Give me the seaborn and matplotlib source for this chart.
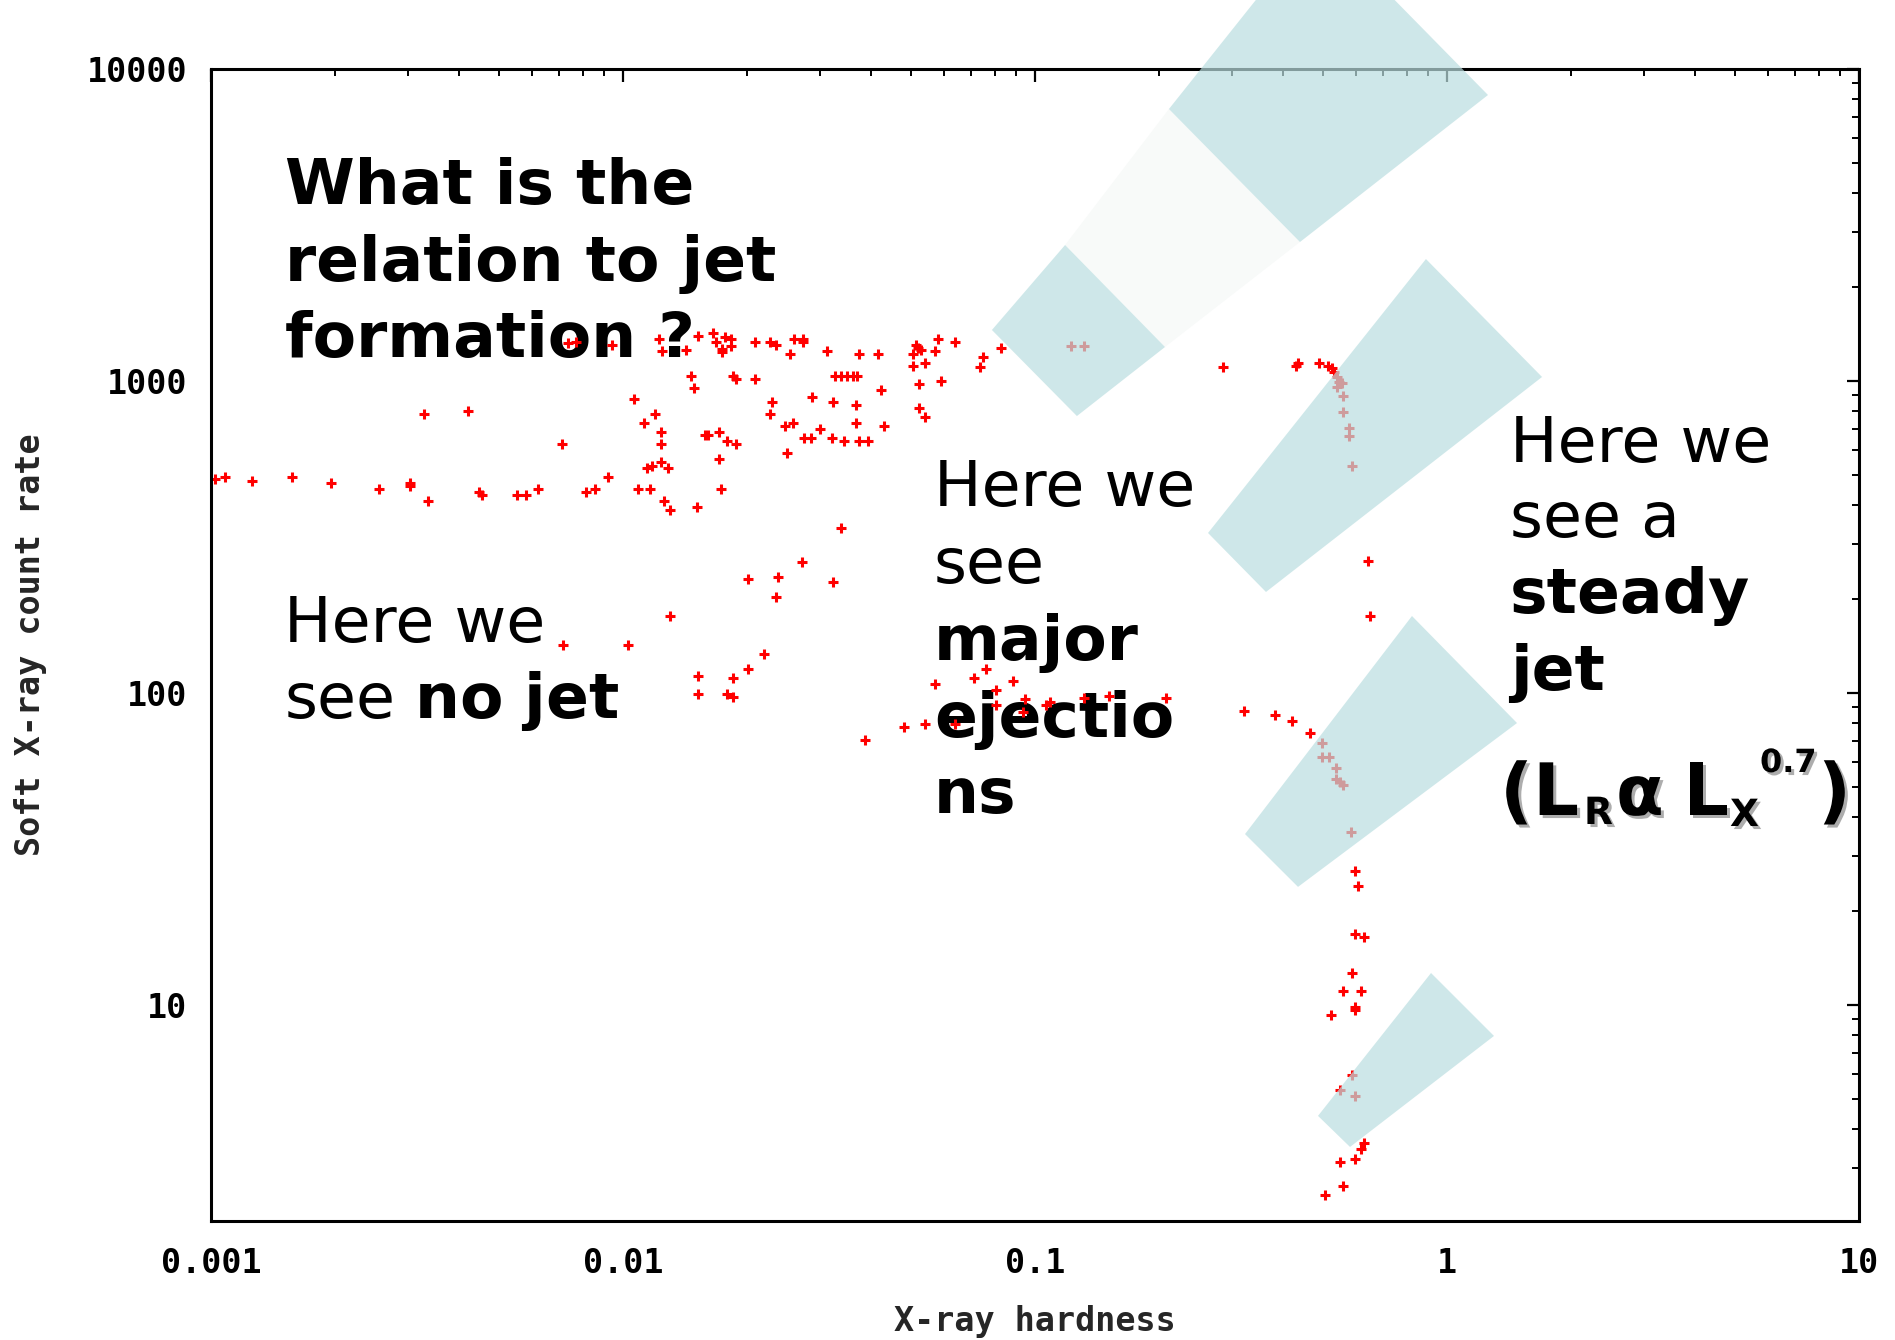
import numpy as np
import pandas as pd
import seaborn as sns
import matplotlib
matplotlib.use("Agg")
import matplotlib.pyplot as plt
import matplotlib.patheffects as pe
from matplotlib.ticker import NullFormatter

# ---------------- data ----------------
# soft-state band (low hardness, ~400-1000 counts)
hard_a = [0.00102, 0.00108, 0.00126, 0.00157, 0.00196, 0.00256, 0.00304, 0.00304, 0.00336, 0.00447,
          0.00455, 0.00553, 0.00582, 0.00622, 0.00813, 0.00855, 0.0092, 0.01087, 0.01163, 0.01144,
          0.01176, 0.01237, 0.01286, 0.01257, 0.0130, 0.01512, 0.0171, 0.0173, 0.00329, 0.00421,
          0.00711, 0.01063, 0.01196, 0.01124, 0.01237, 0.01237, 0.0171, 0.01581, 0.01608, 0.01789,
          0.0188, 0.01462, 0.01487, 0.01849, 0.0188, 0.02091, 0.0230, 0.02274, 0.02473, 0.02585,
          0.02876, 0.03008, 0.0275, 0.0286, 0.0250, 0.03234, 0.03216, 0.03438, 0.03677, 0.03677,
          0.0374, 0.03933, 0.04301, 0.0327, 0.03381, 0.03497, 0.03616, 0.03698, 0.04229]
rate_a = [485, 492, 478, 492, 471, 451, 471, 461, 412, 441,
          431, 431, 431, 451, 441, 451, 492, 451, 451, 526,
          534, 550, 526, 412, 386, 394, 562, 451, 784, 801,
          628, 876, 784, 733, 686, 628, 686, 671, 671, 642,
          628, 1038, 950, 1038, 1015, 1015, 857, 784, 717, 733,
          889, 702, 657, 657, 588, 857, 657, 642, 838, 733,
          642, 642, 717, 1038, 1038, 1038, 1038, 1038, 936]

# bright upper branch (~1000-1400 counts) and the hard state decline
hard_b = [0.00736, 0.00769, 0.0094, 0.01223, 0.01243, 0.01422, 0.01521, 0.01653, 0.01681, 0.0174,
          0.0174, 0.01769, 0.01829, 0.01829, 0.02091, 0.02274, 0.02352, 0.02543, 0.026, 0.02735,
          0.02735, 0.03127, 0.0374, 0.04158, 0.05056, 0.052, 0.05287, 0.05142, 0.05816, 0.05719,
          0.06394, 0.05056, 0.05408, 0.05229, 0.05914, 0.05229, 0.05408, 0.07478, 0.07353, 0.08269,
          0.1223, 0.1315, 0.286, 0.4301, 0.4349, 0.489, 0.5142, 0.526, 0.5318, 0.5408,
          0.547, 0.5562, 0.5408, 0.5593, 0.5593, 0.5783, 0.5783, 0.5881, 0.6431, 0.6503]
rate_b = [1324, 1334, 1305, 1363, 1248, 1258, 1394, 1425, 1334, 1267,
          1239, 1384, 1363, 1295, 1334, 1334, 1305, 1221, 1363, 1363,
          1334, 1248, 1221, 1221, 1221, 1276, 1258, 1305, 1363, 1248,
          1334, 1117, 1142, 978, 1000, 819, 766, 1193, 1109, 1276,
          1295, 1295, 1109, 1117, 1142, 1142, 1117, 1101, 1069, 1030,
          993, 985, 957, 895, 796, 707, 666, 534, 265, 177]

# faint branch and decay to quiescence
hard_c = [0.03381, 0.02719, 0.02011, 0.02378, 0.03234, 0.02352, 0.0130, 0.00715, 0.01028, 0.02199,
          0.02011, 0.01521, 0.01849, 0.01521, 0.01789, 0.01849, 0.03868, 0.04809, 0.05408, 0.06394,
          0.05719, 0.07112, 0.07603, 0.08844, 0.08042, 0.08042, 0.09456, 0.09352, 0.1087, 0.1063,
          0.1315, 0.1512, 0.208, 0.3216, 0.3823, 0.4206, 0.4651, 0.4973, 0.4973, 0.5171,
          0.5378, 0.5378, 0.55, 0.5593, 0.5848, 0.598, 0.6081, 0.598, 0.6287, 0.5881,
          0.5593, 0.6184, 0.598, 0.598, 0.5229, 0.5881, 0.55, 0.598, 0.6287, 0.6184,
          0.598, 0.55, 0.5593, 0.5056]
rate_c = [338, 263, 232, 235, 227, 203, 177, 142.5, 142.5, 133.4,
          119.4, 113.4, 111.7, 99.3, 99.3, 97.1, 70.7, 77.8, 79.6, 79.6,
          106.9, 111.7, 119.4, 109.3, 102.2, 91.5, 95.7, 86.9, 93.6, 91.5,
          96.4, 97.8, 96.4, 87.6, 85.0, 81.3, 74.4, 69.1, 62.4, 62.4,
          57.5, 53.0, 51.9, 50.7, 35.9, 26.9, 24.1, 16.9, 16.5, 12.66,
          11.08, 11.08, 9.85, 9.64, 9.29, 5.97, 5.34, 5.11, 3.61, 3.46,
          3.21, 3.14, 2.63, 2.46]

# highlighted jet zones (data coordinates: hardness, count rate)
zone_top_x = [0.2114, 0.4863, 1.2575, 0.4397]
zone_top_y = [7443, 29600, 8254, 2789]
zone_pale_x = [0.2114, 0.4397, 0.2068, 0.1183]
zone_pale_y = [7443, 2789, 1285, 2728]
zone_left_x = [0.1183, 0.2068, 0.1264, 0.0786]
zone_left_y = [2728, 1285, 772, 1457]
zone_mid_x = [0.889, 1.701, 0.3636, 0.263]
zone_mid_y = [2460, 1030, 210.7, 325.7]
zone_low_x = [0.8222, 1.479, 0.4349, 0.3234]
zone_low_y = [176.5, 80.1, 23.9, 35.3]
zone_bot_x = [0.9146, 1.3004, 0.5816, 0.4863]
zone_bot_y = [12.66, 7.955, 3.506, 4.41]

xtick_vals = [0.001, 0.01, 0.1, 1, 10]
xtick_labels = ["0.001", "0.01", "0.1", "1", "10"]
ytick_vals = [10, 100, 1000, 10000]
ytick_labels = ["10", "100", "1000", "10000"]

# ---------------- figure ----------------
sns.set_style("white")
plt.rcParams["font.family"] = ["DejaVu Sans"]
plt.rcParams["mathtext.fontset"] = "dejavusans"

W, H = 1895, 1340
fig = plt.figure(figsize=(W / 100, H / 100), dpi=100)
fig.patch.set_facecolor("white")
L, R, T, B = 211, 1859, 69, 1221
ax = fig.add_axes([L / W, (H - B) / H, (R - L) / W, (B - T) / H])
ax.set_facecolor("white")

df = pd.DataFrame({
    "hardness": hard_a + hard_b + hard_c,
    "rate": rate_a + rate_b + rate_c,
})
sns.scatterplot(data=df, x="hardness", y="rate", marker="+", s=62,
                color="#ff0000", linewidth=2.2, ax=ax, zorder=2, legend=False)

ax.set_xscale("log")
ax.set_yscale("log")
ax.set_xlim(0.001, 10)
ax.set_ylim(2.03, 10000)

mono = dict(fontfamily="DejaVu Sans Mono", fontweight="bold", fontsize=24)
ax.set_xticks(xtick_vals, labels=xtick_labels, **mono)
ax.set_yticks(ytick_vals, labels=ytick_labels, **mono)
ax.xaxis.set_minor_formatter(NullFormatter())
ax.yaxis.set_minor_formatter(NullFormatter())
ax.tick_params(which="both", direction="in", top=True, right=True, colors="black")
ax.tick_params(which="major", length=9, width=1.6)
ax.tick_params(which="minor", length=5, width=1.4)
ax.tick_params(axis="x", which="major", pad=19)
ax.tick_params(axis="y", which="major", pad=17)
for sp in ax.spines.values():
    sp.set_visible(True)
    sp.set_linewidth(2.2)
    sp.set_color("black")

ax.set_xlabel("X-ray hardness", **mono)
ax.set_ylabel("Soft X-ray count rate", **mono)
ax.xaxis.set_label_coords(0.5, (B - 1305) / (B - T))
ax.yaxis.set_label_coords((47 - L) / (R - L), 0.5)

# zones overlay
teal = (0.731, 0.871, 0.877)
ax.fill(zone_pale_x, zone_pale_y, color=(0.972, 0.979, 0.976), lw=0, zorder=3, clip_on=False)
for zx, zy in [(zone_top_x, zone_top_y), (zone_left_x, zone_left_y), (zone_mid_x, zone_mid_y),
               (zone_low_x, zone_low_y), (zone_bot_x, zone_bot_y)]:
    ax.fill(zx, zy, color=teal, alpha=0.7, lw=0, zorder=3, clip_on=False)

# annotations
def apos(px, py):
    return ((px - L) / (R - L), (B - py) / (B - T))

FS = 45.5
def line(px, py, s, bold=False, size=FS, **kw):
    ax.text(*apos(px, py), s, transform=ax.transAxes, fontsize=size,
            fontweight="bold" if bold else "normal", ha="left", va="baseline",
            color="black", zorder=1, **kw)

line(285, 204, "What is the", bold=True)
line(285, 281, "relation to jet", bold=True)
line(285, 357, "formation ?", bold=True)

line(284, 642, "Here we")
line(284, 718, r"see $\mathbf{no\ jet}$")

line(934, 506, "Here we")
line(934, 583, "see")
line(934, 660, "major", bold=True)
line(934, 737, "ejectio", bold=True)
line(934, 813, "ns", bold=True)

line(1510, 462, "Here we")
line(1510, 537, "see a")
line(1510, 613, "steady", bold=True)
line(1510, 690, "jet", bold=True)

shadow = [pe.withSimplePatchShadow(offset=(2.2, -2.2), shadow_rgbFace=(0.68, 0.68, 0.68), alpha=1.0)]
line(1500, 815, "(L", bold=True, size=52, path_effects=shadow)
line(1584, 824, "R", bold=True, size=27, path_effects=shadow)
line(1616, 815, "α", bold=True, size=50, path_effects=shadow)
line(1683, 815, "L", bold=True, size=52, path_effects=shadow)
line(1730, 826, "X", bold=True, size=27, path_effects=shadow)
line(1760, 772, "0.7", bold=True, size=23, path_effects=shadow)
line(1818, 815, ")", bold=True, size=52, path_effects=shadow)

fig.savefig("out.png", dpi=100, facecolor="white")
